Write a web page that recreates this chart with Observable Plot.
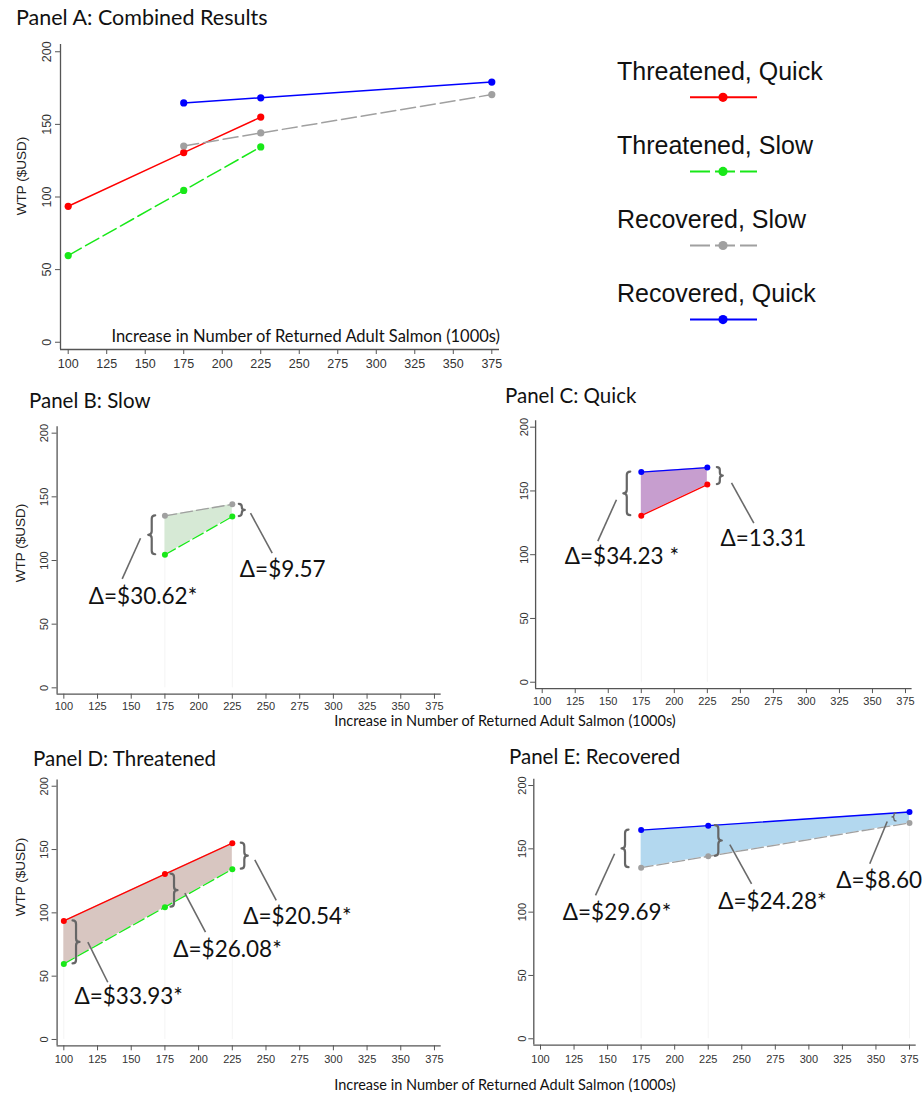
<!DOCTYPE html>
<html>
<head>
<meta charset="utf-8">
<script src="https://cdn.jsdelivr.net/npm/d3@7"></script>
<script src="https://cdn.jsdelivr.net/npm/@observablehq/plot@0.6"></script>
<style>
  html, body { margin: 0; padding: 0; background: #fff; }
  #root { position: relative; width: 923px; height: 1093px; overflow: hidden; background: #fff; }
  #root > svg { position: absolute; }
</style>
</head>
<body>
<div id="root"></div>
<script>
// ---------------- DATA ----------------
const xTicks = [100, 125, 150, 175, 200, 225, 250, 275, 300, 325, 350, 375];
const yTicks = [0, 50, 100, 150, 200];
const seriesNames = ["Threatened, Quick", "Threatened, Slow", "Recovered, Slow", "Recovered, Quick"];
const threatenedX = [100, 175, 225];
const recoveredX = [175, 225, 375];
const threatenedQuick = [93.6, 130.6, 155.0];
const threatenedSlow = [59.7, 104.5, 134.5];
const recoveredSlow = [135.1, 144.1, 170.5];
const recoveredQuick = [164.8, 168.3, 179.1];
const slowDeltas = ["Δ=$30.62*", "Δ=$9.57"];
const quickDeltas = ["Δ=$34.23 *", "Δ=13.31"];
const threatenedDeltas = ["Δ=$33.93*", "Δ=$26.08*", "Δ=$20.54*"];
const recoveredDeltas = ["Δ=$29.69*", "Δ=$24.28*", "Δ=$8.60"];
const panelTitles = ["Panel A: Combined Results", "Panel B: Slow", "Panel C: Quick", "Panel D: Threatened", "Panel E: Recovered"];
const xLabel = "Increase in Number of Returned Adult Salmon (1000s)";
const yLabel = "WTP ($USD)";

// ---------------- STYLES ----------------
const seriesColor = {
  "Threatened, Quick": "#ff0000",
  "Threatened, Slow": "#18e818",
  "Recovered, Slow": "#a0a0a0",
  "Recovered, Quick": "#0000ff"
};
const seriesDashed = {
  "Threatened, Quick": false,
  "Threatened, Slow": true,
  "Recovered, Slow": true,
  "Recovered, Quick": false
};
const AX = "#555";
const LABEL_FONT = "Lato, 'Open Sans', sans-serif";
const TICK_FONT = "'Liberation Sans', Arial, sans-serif";

const series = [
  {name: seriesNames[0], xs: threatenedX, ys: threatenedQuick},
  {name: seriesNames[1], xs: threatenedX, ys: threatenedSlow},
  {name: seriesNames[2], xs: recoveredX, ys: recoveredSlow},
  {name: seriesNames[3], xs: recoveredX, ys: recoveredQuick}
];
const byName = Object.fromEntries(series.map(s => [s.name, s]));
const valueAt = (name, x) => byName[name].ys[byName[name].xs.indexOf(x)];
const rowsFor = (name, xs) => byName[name].xs
  .map((x, i) => ({series: name, x, y: byName[name].ys[i]}))
  .filter(d => !xs || xs.includes(d.x));

// ---------------- ANNOTATION LAYOUT (data units) ----------------
const layoutB = {
  braces: [{x: 175, dx: -12.7, w: 3.5}, {x: 225, dx: 10, w: 3}],
  leaders: [[156.9, 117.5, 143.3, 85.6], [238.5, 137.2, 254.6, 105.7]],
  labels: [[118.5, 71.7], [230.6, 92.9]]
};
const layoutC = {
  braces: [{x: 175, dx: -14, w: 3.5}, {x: 225, dx: 13, w: 3}],
  leaders: [[156.2, 143.1, 142.1, 110.6], [243.3, 156.4, 260.2, 124.7]],
  labels: [[117.1, 98.0], [235, 112.5]]
};
const layoutD = {
  braces: [{x: 100, dx: 12.7, w: 3.5}, {x: 175, dx: 9.6, w: 3.5}, {x: 225, dx: 12.5, w: 3.5}],
  leaders: [[117.8, 76.8, 132.6, 45.2], [189.8, 115.5, 205.1, 84.7], [241.7, 141.9, 257.6, 109.8]],
  labels: [[107.9, 34.0], [181.2, 71.1], [233.1, 96.6]]
};
const layoutE = {
  braces: [{x: 175, dx: -15.6, w: 3.5}, {x: 225, dx: 10.6, w: 3.5}, {x: 375, dx: -15, w: 2, inset: 1.5}],
  leaders: [[155.2, 146.1, 141.0, 113.2], [241.1, 153.4, 257.3, 122.4], [358.4, 171.6, 345.4, 138.2]],
  labels: [[116.6, 99.5], [232.4, 108.4], [320.4, 125]]
};

// ---------------- PANEL BUILDER ----------------
function braceMark(braces, lower, upper) {
  return function (index, scales) {
    const g = d3.create("svg:g").attr("fill", "none").attr("stroke", "#666")
      .attr("stroke-linecap", "round").attr("stroke-linejoin", "round");
    for (const b of braces) {
      const cx = scales.x(b.x) + b.dx;
      const inset = b.inset || 0;
      const y1 = scales.y(valueAt(upper, b.x)) + inset;
      const y2 = scales.y(valueAt(lower, b.x)) - inset;
      const ym = (y1 + y2) / 2;
      const s = b.dx < 0 ? 1 : -1;
      const w = b.w;
      const r = Math.min(w, (ym - y1) / 2);
      const d = `M${cx + s * w},${y1} Q${cx},${y1} ${cx},${y1 + r} L${cx},${ym - r} Q${cx},${ym} ${cx - s * w},${ym} ` +
                `Q${cx},${ym} ${cx},${ym + r} L${cx},${y2 - r} Q${cx},${y2} ${cx + s * w},${y2}`;
      g.append("path").attr("d", d).attr("stroke-width", b.w < 3 ? 1.3 : 2.2);
    }
    return g.node();
  };
}

function makePanel(cfg) {
  const marks = [];
  if (cfg.band) {
    const {lower, upper, xs, fill} = cfg.band;
    const bandRows = xs.map(x => ({x, lo: valueAt(lower, x), hi: valueAt(upper, x)}));
    marks.push(Plot.ruleX(bandRows, {x: "x", y1: 0, y2: "lo", stroke: "#f4f4f4", strokeWidth: 1}));
    marks.push(Plot.areaY(bandRows, {x: "x", y1: "lo", y2: "hi", fill, fillOpacity: 1}));
  }
  marks.push(Plot.ruleX([95], {stroke: AX, strokeWidth: 1.3}));
  marks.push(Plot.ruleY([-5], {stroke: AX, strokeWidth: 1.3}));
  marks.push(Plot.axisX({ticks: xTicks, tickSize: 5, tickPadding: cfg.xPad, fontSize: cfg.tickFont, label: null, stroke: AX, fill: "#333"}));
  marks.push(Plot.axisY({ticks: yTicks, tickSize: 5, tickPadding: cfg.yPad, tickRotate: -90, fontSize: cfg.tickFont, label: null, stroke: AX, fill: "#333"}));
  for (const s of cfg.series) {
    const rows = rowsFor(s, cfg.xs);
    const opts = {x: "x", y: "y", stroke: seriesColor[s], strokeWidth: cfg.lw};
    if (seriesDashed[s]) opts.strokeDasharray = cfg.dash;
    marks.push(Plot.line(rows, opts));
  }
  for (const s of cfg.series) {
    const rows = rowsFor(s, cfg.xs);
    marks.push(Plot.dot(rows, {x: "x", y: "y", fill: seriesColor[s], r: cfg.r}));
  }
  if (cfg.layout) {
    const L = cfg.layout;
    marks.push(Plot.link(L.leaders.map(([x1, y1, x2, y2]) => ({x1, y1, x2, y2})),
      {x1: "x1", y1: "y1", x2: "x2", y2: "y2", stroke: "#6a6a6a", strokeWidth: 1.6}));
    marks.push(braceMark(L.braces, cfg.band.lower, cfg.band.upper));
    marks.push(Plot.text(L.labels.map(([x, y], i) => ({x, y, text: cfg.deltas[i]})),
      {x: "x", y: "y", text: "text", textAnchor: "start", fontSize: cfg.deltaFont, fontFamily: LABEL_FONT, fill: "#111"}));
  }
  const svg = Plot.plot({
    width: cfg.w, height: cfg.h,
    marginLeft: cfg.mL, marginRight: cfg.mR, marginTop: cfg.mT, marginBottom: cfg.mB,
    x: {domain: [95, 380], axis: null},
    y: {domain: [-5, 205], axis: null},
    style: {background: "transparent", overflow: "visible", fontFamily: TICK_FONT, color: AX},
    marks
  });
  svg.style.position = "absolute";
  svg.style.left = cfg.left + "px";
  svg.style.top = cfg.top + "px";
  svg.style.maxWidth = "none";
  document.getElementById("root").appendChild(svg);
}

// Panel A
makePanel({
  left: 0, top: 30, w: 530, h: 352, mL: 60, mR: 31, mT: 14, mB: 33,
  xPad: 5, yPad: 5, tickFont: 12.5, lw: 1.5, r: 3.6, dash: "15,5",
  series: [seriesNames[0], seriesNames[1], seriesNames[3], seriesNames[2]]
});
// Panel B
makePanel({
  left: 0, top: 410, w: 458, h: 310, mL: 56.6, mR: 17.3, mT: 16.3, mB: 26.3,
  xPad: 2.5, yPad: 4.3, tickFont: 11, lw: 1.3, r: 3, dash: "12,4",
  series: [seriesNames[2], seriesNames[1]], xs: [175, 225],
  band: {lower: seriesNames[1], upper: seriesNames[2], xs: [175, 225], fill: "#d6e9d5"},
  layout: layoutB, deltas: slowDeltas, deltaFont: 22.5
});
// Panel C
makePanel({
  left: 460, top: 405, w: 463, h: 310, mL: 75.1, mR: 11.4, mT: 15.3, mB: 26.9,
  xPad: 4, yPad: 2.8, tickFont: 11, lw: 1.3, r: 3, dash: "12,4",
  series: [seriesNames[3], seriesNames[0]], xs: [175, 225],
  band: {lower: seriesNames[0], upper: seriesNames[3], xs: [175, 225], fill: "#c79ecf"},
  layout: layoutC, deltas: quickDeltas, deltaFont: 22.5
});
// Panel D
makePanel({
  left: 0, top: 765, w: 458, h: 305, mL: 56.6, mR: 17.3, mT: 14.4, mB: 24.7,
  xPad: 4.7, yPad: 4.3, tickFont: 11, lw: 1.3, r: 3, dash: "12,4",
  series: [seriesNames[1], seriesNames[0]],
  band: {lower: seriesNames[1], upper: seriesNames[0], xs: [100, 175, 225], fill: "#d8c6c1"},
  layout: layoutD, deltas: threatenedDeltas, deltaFont: 22.5
});
// Panel E
makePanel({
  left: 460, top: 765, w: 463, h: 305, mL: 73.3, mR: 7.3, mT: 13.7, mB: 25.4,
  xPad: 4.7, yPad: 2.6, tickFont: 11, lw: 1.3, r: 3, dash: "12,4",
  series: [seriesNames[2], seriesNames[3]],
  band: {lower: seriesNames[2], upper: seriesNames[3], xs: [175, 225, 375], fill: "#b3d8ef"},
  layout: layoutE, deltas: recoveredDeltas, deltaFont: 22.5
});

// ---------------- OVERLAY: titles, axis titles, legend ----------------
const overlay = d3.select("#root").append("svg")
  .attr("width", 923).attr("height", 1093)
  .style("left", "0px").style("top", "0px").style("pointer-events", "none");

const titlePos = [[16, 25, 21.5], [29, 408.3, 20.5], [505, 403.3, 20.5], [33, 765.7, 20.5], [509, 764, 20.5]];
panelTitles.forEach((t, i) => {
  overlay.append("text").attr("x", titlePos[i][0]).attr("y", titlePos[i][1])
    .attr("font-family", LABEL_FONT).attr("font-size", titlePos[i][2]).attr("fill", "#111").text(t);
});

// x-axis titles
overlay.append("text").attr("x", 500).attr("y", 341.5).attr("text-anchor", "end")
  .attr("font-family", LABEL_FONT).attr("font-size", 16.5).attr("fill", "#111").text(xLabel);
[[505, 726], [505, 1090]].forEach(([x, y]) => {
  overlay.append("text").attr("x", x).attr("y", y).attr("text-anchor", "middle")
    .attr("font-family", LABEL_FONT).attr("font-size", 14.5).attr("fill", "#111").text(xLabel);
});
// y-axis titles
[[21.7, 176], [20, 543], [20, 877]].forEach(([x, y]) => {
  overlay.append("text").attr("transform", `translate(${x},${y}) rotate(-90)`)
    .attr("text-anchor", "middle").attr("dominant-baseline", "central")
    .attr("font-family", TICK_FONT).attr("font-size", 13.5).attr("fill", "#222").text(yLabel);
});

// legend
seriesNames.forEach((name, i) => {
  const base = 80 + i * 74;
  const ly = 97.3 + i * 74.1;
  overlay.append("text").attr("x", 617).attr("y", base)
    .attr("font-family", TICK_FONT).attr("font-size", 25).attr("fill", "#111").text(name);
  overlay.append("line").attr("x1", 690).attr("x2", 757).attr("y1", ly).attr("y2", ly)
    .attr("stroke", seriesColor[name]).attr("stroke-width", 2)
    .attr("stroke-dasharray", seriesDashed[name] ? "20,5" : null);
  overlay.append("circle").attr("cx", 723).attr("cy", ly).attr("r", 4.6).attr("fill", seriesColor[name]);
});
</script>
</body>
</html>
